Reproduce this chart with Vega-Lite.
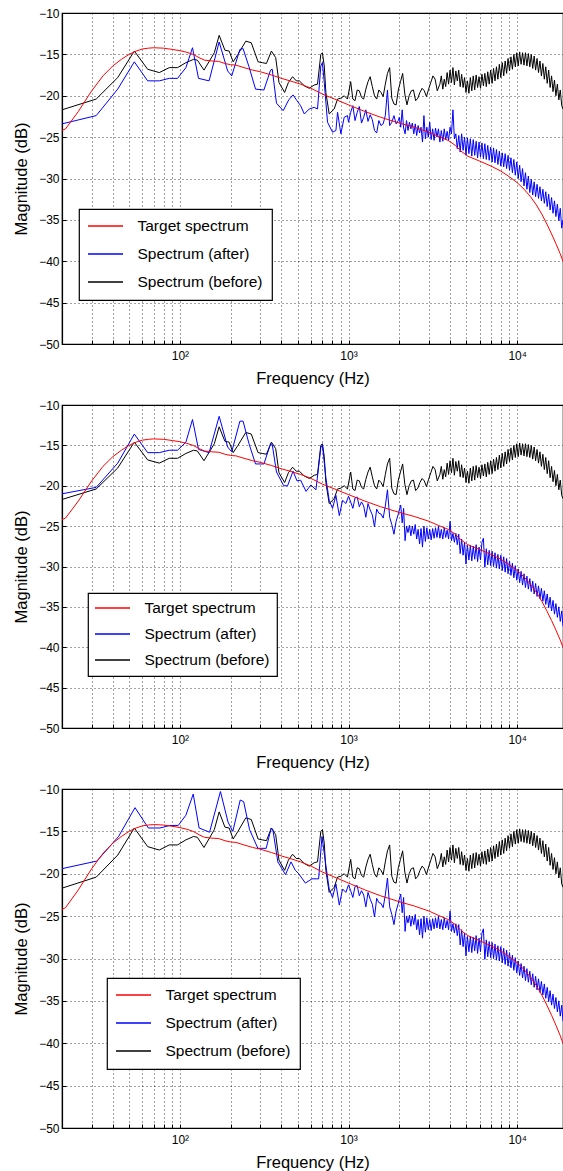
{
"$schema":"https://vega.github.io/schema/vega-lite/v6.json",
"autosize":{"type":"pad"},
"padding":{"left":13,"top":6,"right":0,"bottom":3},
"background":"white",
"config":{
"font":"Liberation Sans",
"view":{"stroke":"black","strokeWidth":1.2},
"axis":{"domainColor":"black","domainWidth":1.2,"tickColor":"black","tickSize":-4,"labelColor":"black","titleColor":"black","labelFont":"Liberation Sans","titleFont":"Liberation Sans","labelFontSize":12,"titleFontSize":16.5,"titleFontWeight":"normal","gridColor":"#000000","gridDash":[1,3],"gridOpacity":0.75,"gridWidth":1},
"legend":{"strokeColor":"black","fillColor":"white","padding":9,"symbolType":"M-2.5,0H2.5","symbolSize":196,"symbolStrokeWidth":1.5,"symbolOffset":9.5,"labelOffset":24,"labelFontSize":15.5,"labelFont":"Liberation Sans","labelColor":"black","rowPadding":11,"labelLimit":300,"strokeWidth":1.2}
},
"datasets":{
"target":[{"f":20,"db":-24.2},{"f":21,"db":-24.0},{"f":25,"db":-21.9},{"f":30,"db":-19.4},{"f":35,"db":-17.6},{"f":40,"db":-16.4},{"f":45,"db":-15.6},{"f":50,"db":-15.0},{"f":55,"db":-14.6},{"f":60,"db":-14.35},{"f":65,"db":-14.25},{"f":70,"db":-14.2},{"f":80,"db":-14.25},{"f":90,"db":-14.4},{"f":100,"db":-14.55},{"f":110,"db":-14.75},{"f":120,"db":-15.0},{"f":130,"db":-15.4},{"f":140,"db":-15.7},{"f":155,"db":-15.8},{"f":170,"db":-15.85},{"f":185,"db":-16.1},{"f":200,"db":-16.25},{"f":215,"db":-16.3},{"f":240,"db":-16.6},{"f":270,"db":-16.9},{"f":300,"db":-17.1},{"f":350,"db":-17.5},{"f":400,"db":-17.9},{"f":450,"db":-18.2},{"f":520,"db":-18.6},{"f":600,"db":-19.1},{"f":700,"db":-19.8},{"f":850,"db":-20.5},{"f":1000,"db":-21.1},{"f":1250,"db":-21.9},{"f":1550,"db":-22.6},{"f":2000,"db":-23.3},{"f":2450,"db":-23.8},{"f":3000,"db":-24.4},{"f":3400,"db":-24.9},{"f":3900,"db":-25.4},{"f":4300,"db":-26.0},{"f":4650,"db":-26.7},{"f":5100,"db":-27.3},{"f":6000,"db":-27.9},{"f":7000,"db":-28.5},{"f":8000,"db":-29.1},{"f":9000,"db":-29.8},{"f":10000,"db":-30.5},{"f":11000,"db":-31.3},{"f":12000,"db":-32.2},{"f":13000,"db":-33.2},{"f":14000,"db":-34.3},{"f":15000,"db":-35.5},{"f":16000,"db":-36.7},{"f":17000,"db":-37.9},{"f":18000,"db":-39.1},{"f":18700,"db":-40.0}],
"before":[{"f":20,"db":-21.7},{"f":31.9,"db":-20.4},{"f":42.8,"db":-17.8},{"f":53.7,"db":-14.6},{"f":64.4,"db":-16.8},{"f":75.5,"db":-17.2},{"f":86.5,"db":-16.6},{"f":96.9,"db":-16.6},{"f":108.6,"db":-16.0},{"f":120.6,"db":-15.6},{"f":127,"db":-15.7},{"f":139,"db":-16.9},{"f":160,"db":-14.8},{"f":171,"db":-12.7},{"f":185,"db":-14.5},{"f":196,"db":-14.6},{"f":207,"db":-15.9},{"f":221,"db":-15.0},{"f":246,"db":-13.4},{"f":265,"db":-13.6},{"f":291,"db":-15.9},{"f":308,"db":-16.0},{"f":326,"db":-16.1},{"f":349,"db":-14.6},{"f":370,"db":-15.4},{"f":387,"db":-18.4},{"f":418,"db":-19.6},{"f":440,"db":-18.4},{"f":466,"db":-17.7},{"f":490,"db":-18.2},{"f":511,"db":-18.2},{"f":547,"db":-18.8},{"f":585,"db":-19.1},{"f":626,"db":-18.7},{"f":655,"db":-18.6},{"f":685,"db":-15.0},{"f":700,"db":-14.8},{"f":718,"db":-16.4},{"f":734,"db":-19.6},{"f":768,"db":-22.2},{"f":822,"db":-21.6},{"f":861,"db":-20.4},{"f":901,"db":-20.3},{"f":943,"db":-20.0},{"f":986,"db":-20.4},{"f":1030,"db":-18.3},{"f":1061,"db":-20.4},{"f":1093,"db":-20.6},{"f":1126,"db":-19.3},{"f":1159,"db":-19.4},{"f":1194,"db":-20.2},{"f":1230,"db":-20.4},{"f":1267,"db":-19.2},{"f":1305,"db":-18.3},{"f":1344,"db":-17.7},{"f":1384,"db":-18.9},{"f":1426,"db":-20.0},{"f":1469,"db":-20.4},{"f":1513,"db":-19.3},{"f":1558,"db":-19.6},{"f":1605,"db":-20.1},{"f":1653,"db":-18.6},{"f":1702,"db":-17.3},{"f":1754,"db":-16.6},{"f":1806,"db":-20.3},{"f":1860,"db":-21.0},{"f":1916,"db":-21.1},{"f":1974,"db":-19.3},{"f":2033,"db":-18.3},{"f":2094,"db":-17.3},{"f":2157,"db":-19.8},{"f":2221,"db":-21.1},{"f":2288,"db":-20.0},{"f":2357,"db":-19.4},{"f":2427,"db":-19.3},{"f":2500,"db":-20.6},{"f":2575,"db":-20.3},{"f":2652,"db":-19.6},{"f":2732,"db":-19.1},{"f":2814,"db":-19.4},{"f":2898,"db":-20.1},{"f":2985,"db":-19.2},{"f":3075,"db":-18.4},{"f":3167,"db":-17.6},{"f":3262,"db":-18.0},{"f":3360,"db":-19.4},{"f":3482,"db":-18.6},{"f":3551,"db":-17.6},{"f":3623,"db":-19.2},{"f":3695,"db":-18.0},{"f":3769,"db":-18.9},{"f":3844,"db":-17.2},{"f":3921,"db":-18.6},{"f":4000,"db":-16.9},{"f":4080,"db":-18.4},{"f":4161,"db":-16.6},{"f":4244,"db":-18.7},{"f":4329,"db":-17.0},{"f":4416,"db":-18.2},{"f":4504,"db":-16.9},{"f":4594,"db":-18.9},{"f":4686,"db":-17.4},{"f":4780,"db":-19.0},{"f":4876,"db":-17.8},{"f":4973,"db":-19.6},{"f":5073,"db":-18.2},{"f":5174,"db":-19.7},{"f":5278,"db":-17.8},{"f":5383,"db":-19.4},{"f":5491,"db":-17.6},{"f":5600,"db":-19.3},{"f":5712,"db":-17.5},{"f":5827,"db":-19.0},{"f":5943,"db":-17.7},{"f":6062,"db":-19.1},{"f":6183,"db":-17.4},{"f":6307,"db":-18.8},{"f":6433,"db":-17.3},{"f":6562,"db":-18.9},{"f":6693,"db":-17.1},{"f":6827,"db":-18.6},{"f":6963,"db":-16.9},{"f":7103,"db":-18.5},{"f":7245,"db":-16.7},{"f":7390,"db":-18.2},{"f":7537,"db":-16.5},{"f":7688,"db":-18.0},{"f":7842,"db":-16.2},{"f":7999,"db":-17.8},{"f":8159,"db":-16.0},{"f":8322,"db":-17.6},{"f":8488,"db":-15.8},{"f":8658,"db":-17.3},{"f":8831,"db":-15.5},{"f":9008,"db":-17.0},{"f":9188,"db":-15.3},{"f":9372,"db":-16.8},{"f":9559,"db":-15.0},{"f":9751,"db":-16.5},{"f":9946,"db":-14.8},{"f":10145,"db":-16.4},{"f":10347,"db":-14.7},{"f":10554,"db":-16.2},{"f":10765,"db":-14.8},{"f":10981,"db":-16.3},{"f":11200,"db":-14.8},{"f":11424,"db":-16.4},{"f":11653,"db":-14.9},{"f":11886,"db":-16.5},{"f":12124,"db":-15.0},{"f":12366,"db":-16.7},{"f":12613,"db":-15.2},{"f":12866,"db":-16.9},{"f":13123,"db":-15.5},{"f":13385,"db":-17.2},{"f":13653,"db":-15.8},{"f":13926,"db":-17.6},{"f":14205,"db":-16.1},{"f":14489,"db":-18.0},{"f":14779,"db":-16.5},{"f":15074,"db":-18.5},{"f":15376,"db":-16.9},{"f":15683,"db":-19.0},{"f":15997,"db":-17.6},{"f":16317,"db":-19.5},{"f":16643,"db":-18.1},{"f":16976,"db":-20.0},{"f":17316,"db":-18.6},{"f":17662,"db":-20.5},{"f":18015,"db":-19.3},{"f":18376,"db":-21.2},{"f":18700,"db":-21.6}],
"after1":[{"f":20,"db":-23.4},{"f":31.9,"db":-22.4},{"f":42.8,"db":-19.2},{"f":53.7,"db":-15.9},{"f":64.4,"db":-18.2},{"f":75.5,"db":-18.2},{"f":86.5,"db":-17.9},{"f":96.9,"db":-17.9},{"f":108.6,"db":-16.6},{"f":118.8,"db":-14.2},{"f":129,"db":-17.9},{"f":149,"db":-18.2},{"f":171,"db":-13.5},{"f":192,"db":-17.0},{"f":203,"db":-17.6},{"f":227,"db":-14.4},{"f":237,"db":-14.3},{"f":257,"db":-16.5},{"f":281,"db":-19.2},{"f":315,"db":-19.3},{"f":345,"db":-16.9},{"f":353,"db":-16.8},{"f":374,"db":-20.9},{"f":410,"db":-21.8},{"f":442,"db":-20.5},{"f":469,"db":-19.9},{"f":495,"db":-20.6},{"f":520,"db":-21.2},{"f":547,"db":-22.2},{"f":585,"db":-21.6},{"f":626,"db":-21.4},{"f":655,"db":-21.6},{"f":685,"db":-16.4},{"f":700,"db":-16.0},{"f":718,"db":-18.4},{"f":751,"db":-23.2},{"f":804,"db":-24.4},{"f":842,"db":-24.2},{"f":861,"db":-22.0},{"f":901,"db":-24.6},{"f":943,"db":-22.6},{"f":986,"db":-22.4},{"f":1000,"db":-23.2},{"f":1030,"db":-22.0},{"f":1061,"db":-21.2},{"f":1093,"db":-23.0},{"f":1126,"db":-22.0},{"f":1159,"db":-21.3},{"f":1194,"db":-23.3},{"f":1230,"db":-22.6},{"f":1267,"db":-21.7},{"f":1305,"db":-23.1},{"f":1344,"db":-22.3},{"f":1384,"db":-22.9},{"f":1426,"db":-24.2},{"f":1469,"db":-24.5},{"f":1513,"db":-23.0},{"f":1558,"db":-23.6},{"f":1605,"db":-23.4},{"f":1653,"db":-22.4},{"f":1702,"db":-19.3},{"f":1754,"db":-23.6},{"f":1806,"db":-23.2},{"f":1860,"db":-22.4},{"f":1916,"db":-23.4},{"f":1974,"db":-23.0},{"f":2000,"db":-22.6},{"f":2040,"db":-23.8},{"f":2081,"db":-21.7},{"f":2122,"db":-23.9},{"f":2165,"db":-24.6},{"f":2208,"db":-23.0},{"f":2252,"db":-24.2},{"f":2297,"db":-23.2},{"f":2343,"db":-24.0},{"f":2390,"db":-23.3},{"f":2438,"db":-24.6},{"f":2487,"db":-23.4},{"f":2536,"db":-24.8},{"f":2587,"db":-23.6},{"f":2639,"db":-24.5},{"f":2692,"db":-23.8},{"f":2745,"db":-25.6},{"f":2800,"db":-22.4},{"f":2856,"db":-25.2},{"f":2913,"db":-23.8},{"f":2972,"db":-25.0},{"f":3031,"db":-23.2},{"f":3092,"db":-25.3},{"f":3154,"db":-24.0},{"f":3217,"db":-25.4},{"f":3281,"db":-23.9},{"f":3347,"db":-25.0},{"f":3414,"db":-24.0},{"f":3482,"db":-25.6},{"f":3551,"db":-24.2},{"f":3623,"db":-25.5},{"f":3695,"db":-24.0},{"f":3769,"db":-25.3},{"f":3844,"db":-24.3},{"f":3921,"db":-25.4},{"f":4000,"db":-23.8},{"f":4080,"db":-24.6},{"f":4161,"db":-21.7},{"f":4244,"db":-25.2},{"f":4329,"db":-24.6},{"f":4416,"db":-26.4},{"f":4504,"db":-24.8},{"f":4594,"db":-26.8},{"f":4686,"db":-24.6},{"f":4780,"db":-26.6},{"f":4876,"db":-25.0},{"f":4973,"db":-27.2},{"f":5073,"db":-25.1},{"f":5174,"db":-27.0},{"f":5278,"db":-25.2},{"f":5383,"db":-27.3},{"f":5491,"db":-25.3},{"f":5600,"db":-27.2},{"f":5712,"db":-25.5},{"f":5827,"db":-27.5},{"f":5943,"db":-25.6},{"f":6062,"db":-27.4},{"f":6183,"db":-25.7},{"f":6307,"db":-27.6},{"f":6433,"db":-25.8},{"f":6562,"db":-27.7},{"f":6693,"db":-26.0},{"f":6827,"db":-27.8},{"f":6963,"db":-26.2},{"f":7103,"db":-28.0},{"f":7245,"db":-26.3},{"f":7390,"db":-28.1},{"f":7537,"db":-26.5},{"f":7688,"db":-28.3},{"f":7842,"db":-26.7},{"f":7999,"db":-28.5},{"f":8159,"db":-26.9},{"f":8322,"db":-28.6},{"f":8488,"db":-27.0},{"f":8658,"db":-28.8},{"f":8831,"db":-27.2},{"f":9008,"db":-29.0},{"f":9188,"db":-27.5},{"f":9372,"db":-29.3},{"f":9559,"db":-27.7},{"f":9751,"db":-29.6},{"f":9946,"db":-28.0},{"f":10145,"db":-30.0},{"f":10347,"db":-28.4},{"f":10554,"db":-30.4},{"f":10765,"db":-28.8},{"f":10981,"db":-30.9},{"f":11200,"db":-29.3},{"f":11424,"db":-31.3},{"f":11653,"db":-29.7},{"f":11886,"db":-31.7},{"f":12124,"db":-30.1},{"f":12366,"db":-32.0},{"f":12613,"db":-30.4},{"f":12866,"db":-32.2},{"f":13123,"db":-30.7},{"f":13385,"db":-32.4},{"f":13653,"db":-31.0},{"f":13926,"db":-32.7},{"f":14205,"db":-31.3},{"f":14489,"db":-33.0},{"f":14779,"db":-31.6},{"f":15074,"db":-33.4},{"f":15376,"db":-31.9},{"f":15683,"db":-33.8},{"f":15997,"db":-32.3},{"f":16317,"db":-34.2},{"f":16643,"db":-32.7},{"f":16976,"db":-34.6},{"f":17316,"db":-33.1},{"f":17662,"db":-35.1},{"f":18015,"db":-33.6},{"f":18376,"db":-36.0},{"f":18700,"db":-35.0}],
"after2":[{"f":20,"db":-21.0},{"f":31.9,"db":-20.2},{"f":42.8,"db":-17.2},{"f":53.7,"db":-13.6},{"f":64.4,"db":-15.9},{"f":75.5,"db":-15.9},{"f":86.5,"db":-15.6},{"f":96.9,"db":-15.6},{"f":108.6,"db":-14.6},{"f":118.8,"db":-11.8},{"f":129,"db":-15.5},{"f":149,"db":-15.9},{"f":171,"db":-11.4},{"f":192,"db":-15.2},{"f":203,"db":-15.8},{"f":227,"db":-12.0},{"f":237,"db":-12.0},{"f":257,"db":-14.8},{"f":281,"db":-17.3},{"f":315,"db":-17.3},{"f":345,"db":-14.8},{"f":353,"db":-14.9},{"f":374,"db":-18.3},{"f":413,"db":-20.0},{"f":435,"db":-20.0},{"f":469,"db":-18.2},{"f":495,"db":-19.4},{"f":520,"db":-19.3},{"f":560,"db":-20.7},{"f":598,"db":-19.9},{"f":641,"db":-20.5},{"f":685,"db":-15.3},{"f":700,"db":-14.9},{"f":734,"db":-19.0}],
"after3":[{"f":20,"db":-19.4},{"f":32.2,"db":-18.5},{"f":43.3,"db":-15.6},{"f":54.2,"db":-12.2},{"f":65,"db":-14.6},{"f":76.2,"db":-14.6},{"f":87.3,"db":-14.3},{"f":97.8,"db":-14.3},{"f":108.5,"db":-13.1},{"f":120,"db":-10.6},{"f":130,"db":-14.6},{"f":150,"db":-15.1},{"f":174,"db":-10.3},{"f":193,"db":-13.9},{"f":206,"db":-15.0},{"f":228,"db":-11.3},{"f":239,"db":-11.5},{"f":259,"db":-14.8},{"f":290,"db":-17.0},{"f":325,"db":-17.0},{"f":348,"db":-14.6},{"f":356,"db":-14.8},{"f":381,"db":-18.6},{"f":423,"db":-20.1},{"f":456,"db":-18.6},{"f":484,"db":-19.6},{"f":507,"db":-20.0},{"f":555,"db":-21.1},{"f":607,"db":-20.6},{"f":665,"db":-20.6},{"f":696,"db":-15.6},{"f":734,"db":-19.0}],
"after23":[{"f":734,"db":-19.0},{"f":768,"db":-21.8},{"f":804,"db":-22.8},{"f":842,"db":-21.2},{"f":882,"db":-23.7},{"f":922,"db":-21.8},{"f":965,"db":-22.2},{"f":1000,"db":-21.3},{"f":1030,"db":-22.0},{"f":1061,"db":-22.8},{"f":1093,"db":-21.5},{"f":1126,"db":-21.4},{"f":1159,"db":-22.6},{"f":1194,"db":-22.0},{"f":1230,"db":-22.5},{"f":1267,"db":-23.9},{"f":1305,"db":-22.2},{"f":1344,"db":-23.0},{"f":1384,"db":-23.6},{"f":1426,"db":-25.1},{"f":1469,"db":-22.9},{"f":1513,"db":-23.4},{"f":1558,"db":-23.5},{"f":1605,"db":-24.0},{"f":1653,"db":-22.5},{"f":1702,"db":-20.5},{"f":1754,"db":-23.9},{"f":1806,"db":-24.8},{"f":1860,"db":-26.0},{"f":1916,"db":-24.4},{"f":1974,"db":-23.5},{"f":2000,"db":-23.0},{"f":2040,"db":-22.4},{"f":2081,"db":-24.6},{"f":2122,"db":-22.8},{"f":2165,"db":-26.8},{"f":2208,"db":-25.0},{"f":2252,"db":-25.8},{"f":2297,"db":-24.9},{"f":2343,"db":-26.2},{"f":2390,"db":-25.0},{"f":2438,"db":-26.0},{"f":2487,"db":-24.8},{"f":2536,"db":-26.6},{"f":2587,"db":-25.4},{"f":2639,"db":-27.2},{"f":2692,"db":-25.3},{"f":2745,"db":-27.6},{"f":2800,"db":-25.0},{"f":2856,"db":-26.9},{"f":2913,"db":-25.2},{"f":2972,"db":-26.6},{"f":3031,"db":-25.4},{"f":3092,"db":-26.7},{"f":3154,"db":-25.3},{"f":3217,"db":-26.5},{"f":3281,"db":-25.2},{"f":3347,"db":-26.4},{"f":3414,"db":-25.0},{"f":3482,"db":-26.5},{"f":3551,"db":-25.4},{"f":3623,"db":-26.6},{"f":3695,"db":-25.2},{"f":3769,"db":-26.4},{"f":3844,"db":-25.5},{"f":3921,"db":-26.6},{"f":4000,"db":-24.4},{"f":4080,"db":-26.8},{"f":4161,"db":-25.9},{"f":4244,"db":-27.0},{"f":4329,"db":-25.9},{"f":4416,"db":-27.3},{"f":4504,"db":-26.0},{"f":4594,"db":-28.4},{"f":4686,"db":-26.6},{"f":4780,"db":-28.6},{"f":4876,"db":-27.0},{"f":4973,"db":-29.7},{"f":5073,"db":-27.4},{"f":5174,"db":-29.2},{"f":5278,"db":-27.4},{"f":5383,"db":-29.3},{"f":5491,"db":-27.5},{"f":5600,"db":-29.1},{"f":5712,"db":-27.3},{"f":5827,"db":-29.4},{"f":5943,"db":-27.6},{"f":6062,"db":-29.2},{"f":6183,"db":-27.0},{"f":6307,"db":-26.5},{"f":6433,"db":-30.1},{"f":6562,"db":-27.8},{"f":6693,"db":-29.8},{"f":6827,"db":-28.0},{"f":6963,"db":-29.9},{"f":7103,"db":-28.1},{"f":7245,"db":-30.0},{"f":7390,"db":-28.3},{"f":7537,"db":-30.2},{"f":7688,"db":-28.5},{"f":7842,"db":-30.3},{"f":7999,"db":-28.6},{"f":8159,"db":-30.5},{"f":8322,"db":-28.8},{"f":8488,"db":-30.7},{"f":8658,"db":-29.0},{"f":8831,"db":-30.9},{"f":9008,"db":-29.3},{"f":9188,"db":-31.1},{"f":9372,"db":-29.6},{"f":9559,"db":-31.4},{"f":9751,"db":-29.9},{"f":9946,"db":-31.7},{"f":10145,"db":-30.3},{"f":10347,"db":-32.0},{"f":10554,"db":-30.6},{"f":10765,"db":-32.3},{"f":10981,"db":-30.9},{"f":11200,"db":-32.6},{"f":11424,"db":-31.2},{"f":11653,"db":-32.8},{"f":11886,"db":-31.5},{"f":12124,"db":-33.1},{"f":12366,"db":-31.8},{"f":12613,"db":-33.4},{"f":12866,"db":-32.1},{"f":13123,"db":-33.7},{"f":13385,"db":-32.4},{"f":13653,"db":-34.0},{"f":13926,"db":-32.7},{"f":14205,"db":-34.3},{"f":14489,"db":-33.0},{"f":14779,"db":-34.7},{"f":15074,"db":-33.4},{"f":15376,"db":-35.1},{"f":15683,"db":-33.8},{"f":15997,"db":-35.5},{"f":16317,"db":-34.2},{"f":16643,"db":-35.9},{"f":16976,"db":-34.6},{"f":17316,"db":-36.3},{"f":17662,"db":-35.0},{"f":18015,"db":-36.8},{"f":18376,"db":-35.5},{"f":18700,"db":-37.4}]
},
"spacing":61,
"bounds":"flush",
"resolve":{"scale":{"color":"independent"},"legend":{"color":"independent"}},
"vconcat":[
{"width":501,"height":331,
"encoding":{
"x":{"field":"f","type":"quantitative","title":"Frequency (Hz)","scale":{"type":"log","domain":[20,18700],"nice":false},"axis":{"values":[20,30,40,50,60,70,80,90,100,200,300,400,500,600,700,800,900,1000,2000,3000,4000,5000,6000,7000,8000,9000,10000],"labelExpr":"datum.value==100?'10²':datum.value==1000?'10³':datum.value==10000?'10⁴':''","grid":true,"labelOverlap":false,"labelPadding":10,"titlePadding":9}},
"y":{"field":"db","type":"quantitative","title":"Magnitude (dB)","scale":{"domain":[-50,-10],"nice":false,"zero":false},"axis":{"values":[-50,-45,-40,-35,-30,-25,-20,-15,-10],"format":"d","grid":true,"labelPadding":7,"titlePadding":9}}},
"layer":[
{"data":{"name":"before"},"mark":{"type":"line","clip":true,"strokeWidth":1},"encoding":{"color":{"datum":"Spectrum (before)","type":"nominal","scale":{"domain":["Target spectrum","Spectrum (after)","Spectrum (before)"],"range":["#ff0000","#0000ff","#000000"]},"legend":{"orient":"none","legendX":17,"legendY":196,"title":null}}}},
{"data":{"name":"after1"},"mark":{"type":"line","clip":true,"strokeWidth":1},"encoding":{"color":{"datum":"Spectrum (after)","type":"nominal"}}},
{"data":{"name":"target"},"mark":{"type":"line","clip":true,"strokeWidth":1},"encoding":{"color":{"datum":"Target spectrum","type":"nominal"}}}
]},
{"width":501,"height":323,
"encoding":{
"x":{"field":"f","type":"quantitative","title":"Frequency (Hz)","scale":{"type":"log","domain":[20,18700],"nice":false},"axis":{"values":[20,30,40,50,60,70,80,90,100,200,300,400,500,600,700,800,900,1000,2000,3000,4000,5000,6000,7000,8000,9000,10000],"labelExpr":"datum.value==100?'10²':datum.value==1000?'10³':datum.value==10000?'10⁴':''","grid":true,"labelOverlap":false,"labelPadding":10,"titlePadding":9}},
"y":{"field":"db","type":"quantitative","title":"Magnitude (dB)","scale":{"domain":[-50,-10],"nice":false,"zero":false},"axis":{"values":[-50,-45,-40,-35,-30,-25,-20,-15,-10],"format":"d","grid":true,"labelPadding":7,"titlePadding":9}}},
"layer":[
{"data":{"name":"before"},"mark":{"type":"line","clip":true,"strokeWidth":1},"encoding":{"color":{"datum":"Spectrum (before)","type":"nominal","scale":{"domain":["Target spectrum","Spectrum (after)","Spectrum (before)"],"range":["#ff0000","#0000ff","#000000"]},"legend":{"orient":"none","legendX":26,"legendY":188,"title":null,"padding":7,"rowPadding":9}}}},
{"data":{"name":"after2"},"mark":{"type":"line","clip":true,"strokeWidth":1},"encoding":{"color":{"datum":"Spectrum (after)","type":"nominal"}}},
{"data":{"name":"after23"},"mark":{"type":"line","clip":true,"strokeWidth":1},"encoding":{"color":{"datum":"Spectrum (after)","type":"nominal"}}},
{"data":{"name":"target"},"mark":{"type":"line","clip":true,"strokeWidth":1},"encoding":{"color":{"datum":"Target spectrum","type":"nominal"}}}
]},
{"width":501,"height":339,
"encoding":{
"x":{"field":"f","type":"quantitative","title":"Frequency (Hz)","scale":{"type":"log","domain":[20,18700],"nice":false},"axis":{"values":[20,30,40,50,60,70,80,90,100,200,300,400,500,600,700,800,900,1000,2000,3000,4000,5000,6000,7000,8000,9000,10000],"labelExpr":"datum.value==100?'10²':datum.value==1000?'10³':datum.value==10000?'10⁴':''","grid":true,"labelOverlap":false,"labelPadding":10,"titlePadding":9}},
"y":{"field":"db","type":"quantitative","title":"Magnitude (dB)","scale":{"domain":[-50,-10],"nice":false,"zero":false},"axis":{"values":[-50,-45,-40,-35,-30,-25,-20,-15,-10],"format":"d","grid":true,"labelPadding":7,"titlePadding":9}}},
"layer":[
{"data":{"name":"before"},"mark":{"type":"line","clip":true,"strokeWidth":1},"encoding":{"color":{"datum":"Spectrum (before)","type":"nominal","scale":{"domain":["Target spectrum","Spectrum (after)","Spectrum (before)"],"range":["#ff0000","#0000ff","#000000"]},"legend":{"orient":"none","legendX":45,"legendY":189,"title":null}}}},
{"data":{"name":"after3"},"mark":{"type":"line","clip":true,"strokeWidth":1},"encoding":{"color":{"datum":"Spectrum (after)","type":"nominal"}}},
{"data":{"name":"after23"},"mark":{"type":"line","clip":true,"strokeWidth":1},"encoding":{"color":{"datum":"Spectrum (after)","type":"nominal"}}},
{"data":{"name":"target"},"mark":{"type":"line","clip":true,"strokeWidth":1},"encoding":{"color":{"datum":"Target spectrum","type":"nominal"}}}
]}
]
}
